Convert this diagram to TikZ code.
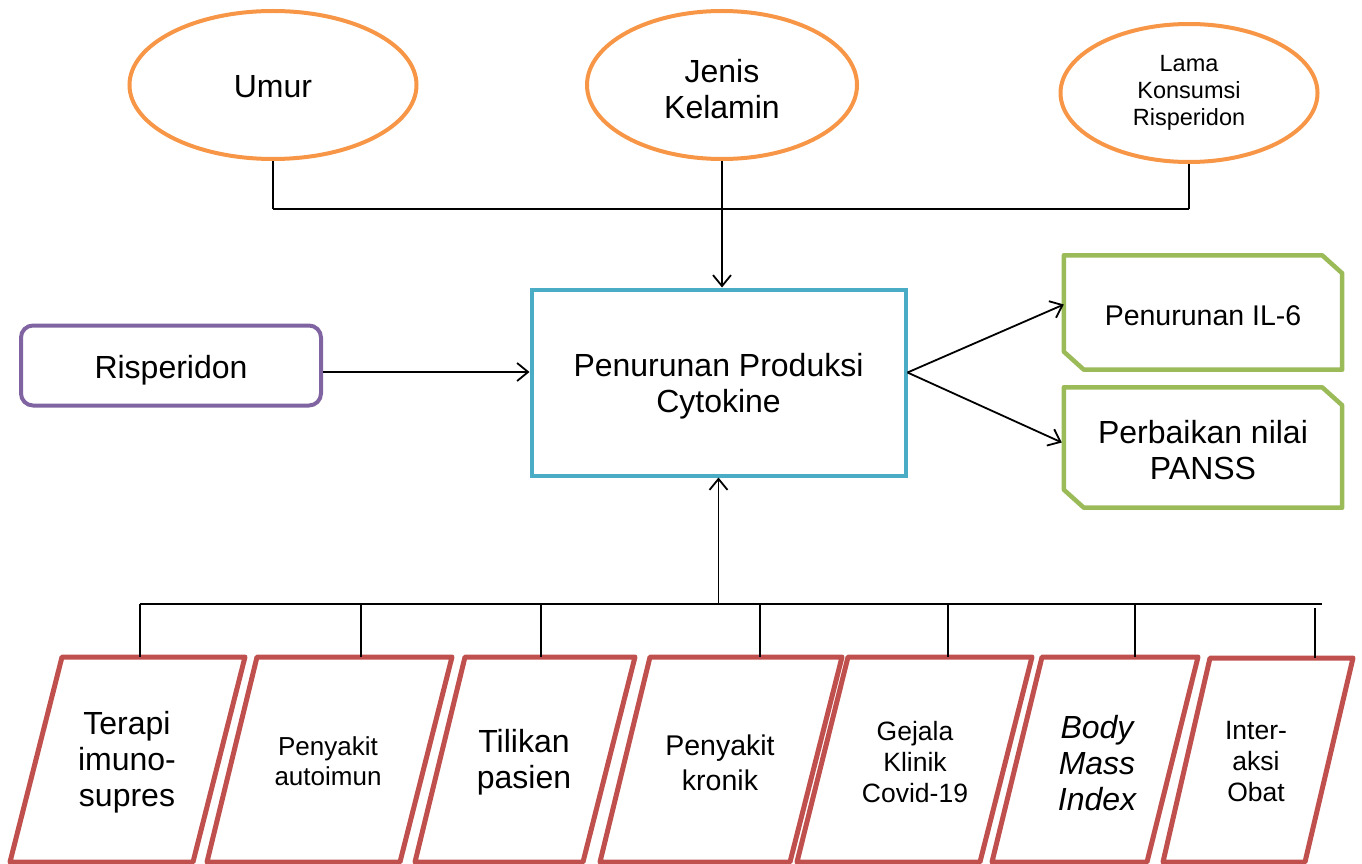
\documentclass[tikz,border=0pt]{standalone}
\usepackage{fontspec}
\setmainfont{Liberation Sans}
\usetikzlibrary{arrows.meta,shapes.geometric}
\definecolor{orng}{HTML}{F79646}
\definecolor{teal2}{HTML}{4BACC6}
\definecolor{purp}{HTML}{8064A2}
\definecolor{grn}{HTML}{9BBB59}
\definecolor{redb}{HTML}{C0504D}
\begin{document}
\begin{tikzpicture}[x=1pt,y=-1pt,
  big/.style={font=\fontsize{32}{36}\selectfont},
  txt/.style={align=center,inner sep=0pt},
  ell/.style={ellipse,draw=orng,line width=4pt,inner sep=0pt},
  conn/.style={line width=1.8pt,black},
  arr/.style={conn,-{Straight Barb[length=11pt,width=18pt]}},
  grnbox/.style={draw=none,minimum width=278pt,inner sep=0pt},
  grnline/.style={draw=grn,line width=4.5pt,line join=round},
  para/.style={draw=redb,line width=5pt,line join=round},
  ptext/.style={align=center,inner sep=0pt}]
\useasboundingbox (0,0) rectangle (1362,864);

% top ellipses
\node[ell,minimum width=287pt,minimum height=148pt] (umur) at (273,85) {};
\node[txt,big] (umurt) at (273,87) {Umur};
\node[ell,minimum width=270pt,minimum height=148pt] (jenis) at (722,85) {};
\node[txt,big] (jenist) at (722,89) {Jenis\\Kelamin};
\node[ell,minimum width=257pt,minimum height=138pt] (lama) at (1189,93) {};
\node[txt,font=\fontsize{23.5}{27}\selectfont] (lamat) at (1189,93) {Lama\\Konsumsi\\Risperidon};

% central box
\node[draw=teal2,line width=4pt,minimum width=374pt,minimum height=186pt] (cyto) at (718.5,382.5) {};
\node[txt,big] (cytot) at (718.5,386) {Penurunan Produksi\\Cytokine};

% risperidon
\node[draw=purp,line width=4pt,rounded corners=12pt,minimum width=300pt,minimum height=80pt] (risp) at (171,365.5) {};
\node[txt,big] (rispt) at (171,370) {Risperidon};

% green boxes
\node[grnbox,minimum height=114pt] (il6) at (1203,312.5) {};
\node[txt,font=\fontsize{28.5}{33}\selectfont] (il6t) at (1203,315.5) {Penurunan IL-6};
\node[grnbox,minimum height=120pt] (panss) at (1203,447.5) {};
\node[txt,big] (pansst) at (1203,450.5) {Perbaikan nilai\\PANSS};
\foreach \n in {il6,panss}{
  \draw[grnline] (\n.north west) -- ([xshift=-20pt]\n.north east) -- ([yshift=-18pt]\n.north east)
    -- (\n.south east) -- ([xshift=20pt]\n.south west) -- ([yshift=18pt]\n.south west) -- cycle;
}

% top connectors
\coordinate (bl) at (273,209);
\coordinate (br) at (1189,209);
\draw[conn] (umur.south) -- (bl);
\draw[conn] (lama.south) -- (br);
\draw[conn] (bl) -- (br);
\draw[arr] (jenis.south) -- (jenis.south |- cyto.north);

% risperidon arrow
\coordinate (rs) at ([yshift=-6.5pt]risp.east);
\draw[arr] (rs) -- (rs -| cyto.west);

% outcome arrows
\coordinate (cs) at ([yshift=10pt]cyto.east);
\draw[arr] (cs) -- ([yshift=8pt]il6.west);
\draw[arr] (cs) -- ([yshift=5pt,xshift=-2pt]panss.west);

% bottom bus
\coordinate (busl) at (140,604);
\coordinate (busr) at (1322,604);
\draw[conn] (busl) -- (busr);
\draw[arr] (cyto.south |- busl) -- (cyto.south);

% parallelograms
\draw[para] (62,657) -- (245,657) -- (193,862) -- (10,862) -- cycle;
\draw[para] (257,657) -- (452,657) -- (400,862) -- (207,862) -- cycle;
\draw[para] (465,657) -- (635,657) -- (583,862) -- (415,862) -- cycle;
\draw[para] (650,657) -- (842,657) -- (790,862) -- (600,862) -- cycle;
\draw[para] (848,657) -- (1032,657) -- (980,862) -- (797,862) -- cycle;
\draw[para] (1042,657) -- (1198,657) -- (1147,862) -- (992,862) -- cycle;
\draw[para] (1210,658) -- (1353,658) -- (1305,862) -- (1163,862) -- cycle;

\node[ptext,big] (p1) at (127,762) {Terapi\\imuno-\\supres};
\node[ptext,font=\fontsize{26}{30}\selectfont] (p2) at (328,761) {Penyakit\\autoimun};
\node[ptext,big] (p3) at (524,762) {Tilikan\\pasien};
\node[ptext,font=\fontsize{28.5}{35}\selectfont] (p4) at (720,763) {Penyakit\\kronik};
\node[ptext,font=\fontsize{26.5}{31}\selectfont] (p5) at (915,762) {Gejala\\Klinik\\Covid-19};
\node[ptext,font=\fontsize{32}{36}\selectfont\itshape] (p6) at (1097,763) {Body\\Mass\\Index};
\node[ptext,font=\fontsize{26.5}{31}\selectfont] (p7) at (1256,762) {Inter-\\aksi\\Obat};

\foreach \x/\n in {140/1,361/2,541/3,760/4,948/5,1135/6}{
  \coordinate (t\n) at (\x,657);
  \draw[conn] (t\n |- busl) -- (t\n);
}
\coordinate (t7) at (1315,658);
\draw[conn] (1315,608) -- (t7);
\end{tikzpicture}
\end{document}
